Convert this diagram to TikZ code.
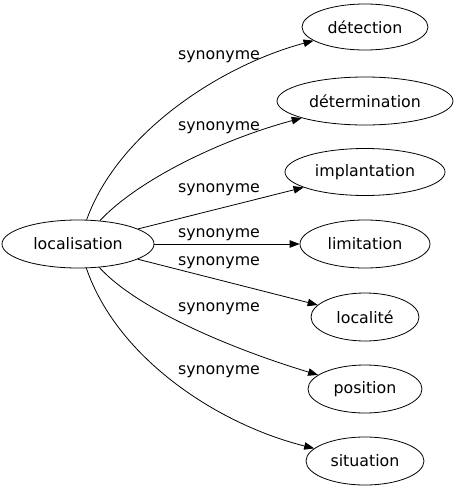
\documentclass[tikz,border=0pt]{standalone}
\usepackage{fontspec}
\setmainfont{DejaVu Sans}
\usetikzlibrary{arrows.meta,shapes.geometric}

\begin{document}
\begin{tikzpicture}[x=1pt, y=-1pt, line width=0.8pt,
    word/.style={ellipse, draw, inner sep=0pt, font=\fontsize{15.8}{18}\selectfont},
    rel/.style={inner sep=0pt, font=\fontsize{15.8}{18}\selectfont},
    syn/.style={-{Triangle[length=10pt, width=7.5pt]}}]

    \useasboundingbox (0,0) rectangle (458,491);

    \node[word, minimum width=152pt, minimum height=48pt] (loc) at (78,244) {localisation};
    \node[word, minimum width=126pt, minimum height=46pt] (det) at (365,27) {détection};
    \node[word, minimum width=176pt, minimum height=48pt] (dtm) at (365,101) {détermination};
    \node[word, minimum width=160pt, minimum height=47pt] (imp) at (365,172) {implantation};
    \node[word, minimum width=130pt, minimum height=48pt] (lim) at (365,244) {limitation};
    \node[word, minimum width=108pt, minimum height=48pt] (lcl) at (365,317) {localité};
    \node[word, minimum width=114pt, minimum height=48pt] (pos) at (365,389) {position};
    \node[word, minimum width=118pt, minimum height=48pt] (sit) at (365,461) {situation};

    \node[rel] (s1) at (219,57) {synonyme};
    \node[rel] (s2) at (219,128) {synonyme};
    \node[rel] (s3) at (219,190) {synonyme};
    \node[rel] (s4) at (219,235) {synonyme};
    \node[rel] (s5) at (219,263) {synonyme};
    \node[rel] (s6) at (219,309) {synonyme};
    \node[rel] (s7) at (219,372) {synonyme};

    \draw[syn] (loc) .. controls (118,132) and (222,65) .. (det);
    \draw[syn] (loc) .. controls (138,180) and (220,140) .. (dtm);
    \draw[syn] (loc) -- (imp);
    \draw[syn] (loc) -- (lim);
    \draw[syn] (loc) -- (lcl);
    \draw[syn] (loc) .. controls (138,310) and (235,350) .. (pos);
    \draw[syn] (loc) .. controls (118,360) and (220,425) .. (sit);

\end{tikzpicture}
\end{document}
